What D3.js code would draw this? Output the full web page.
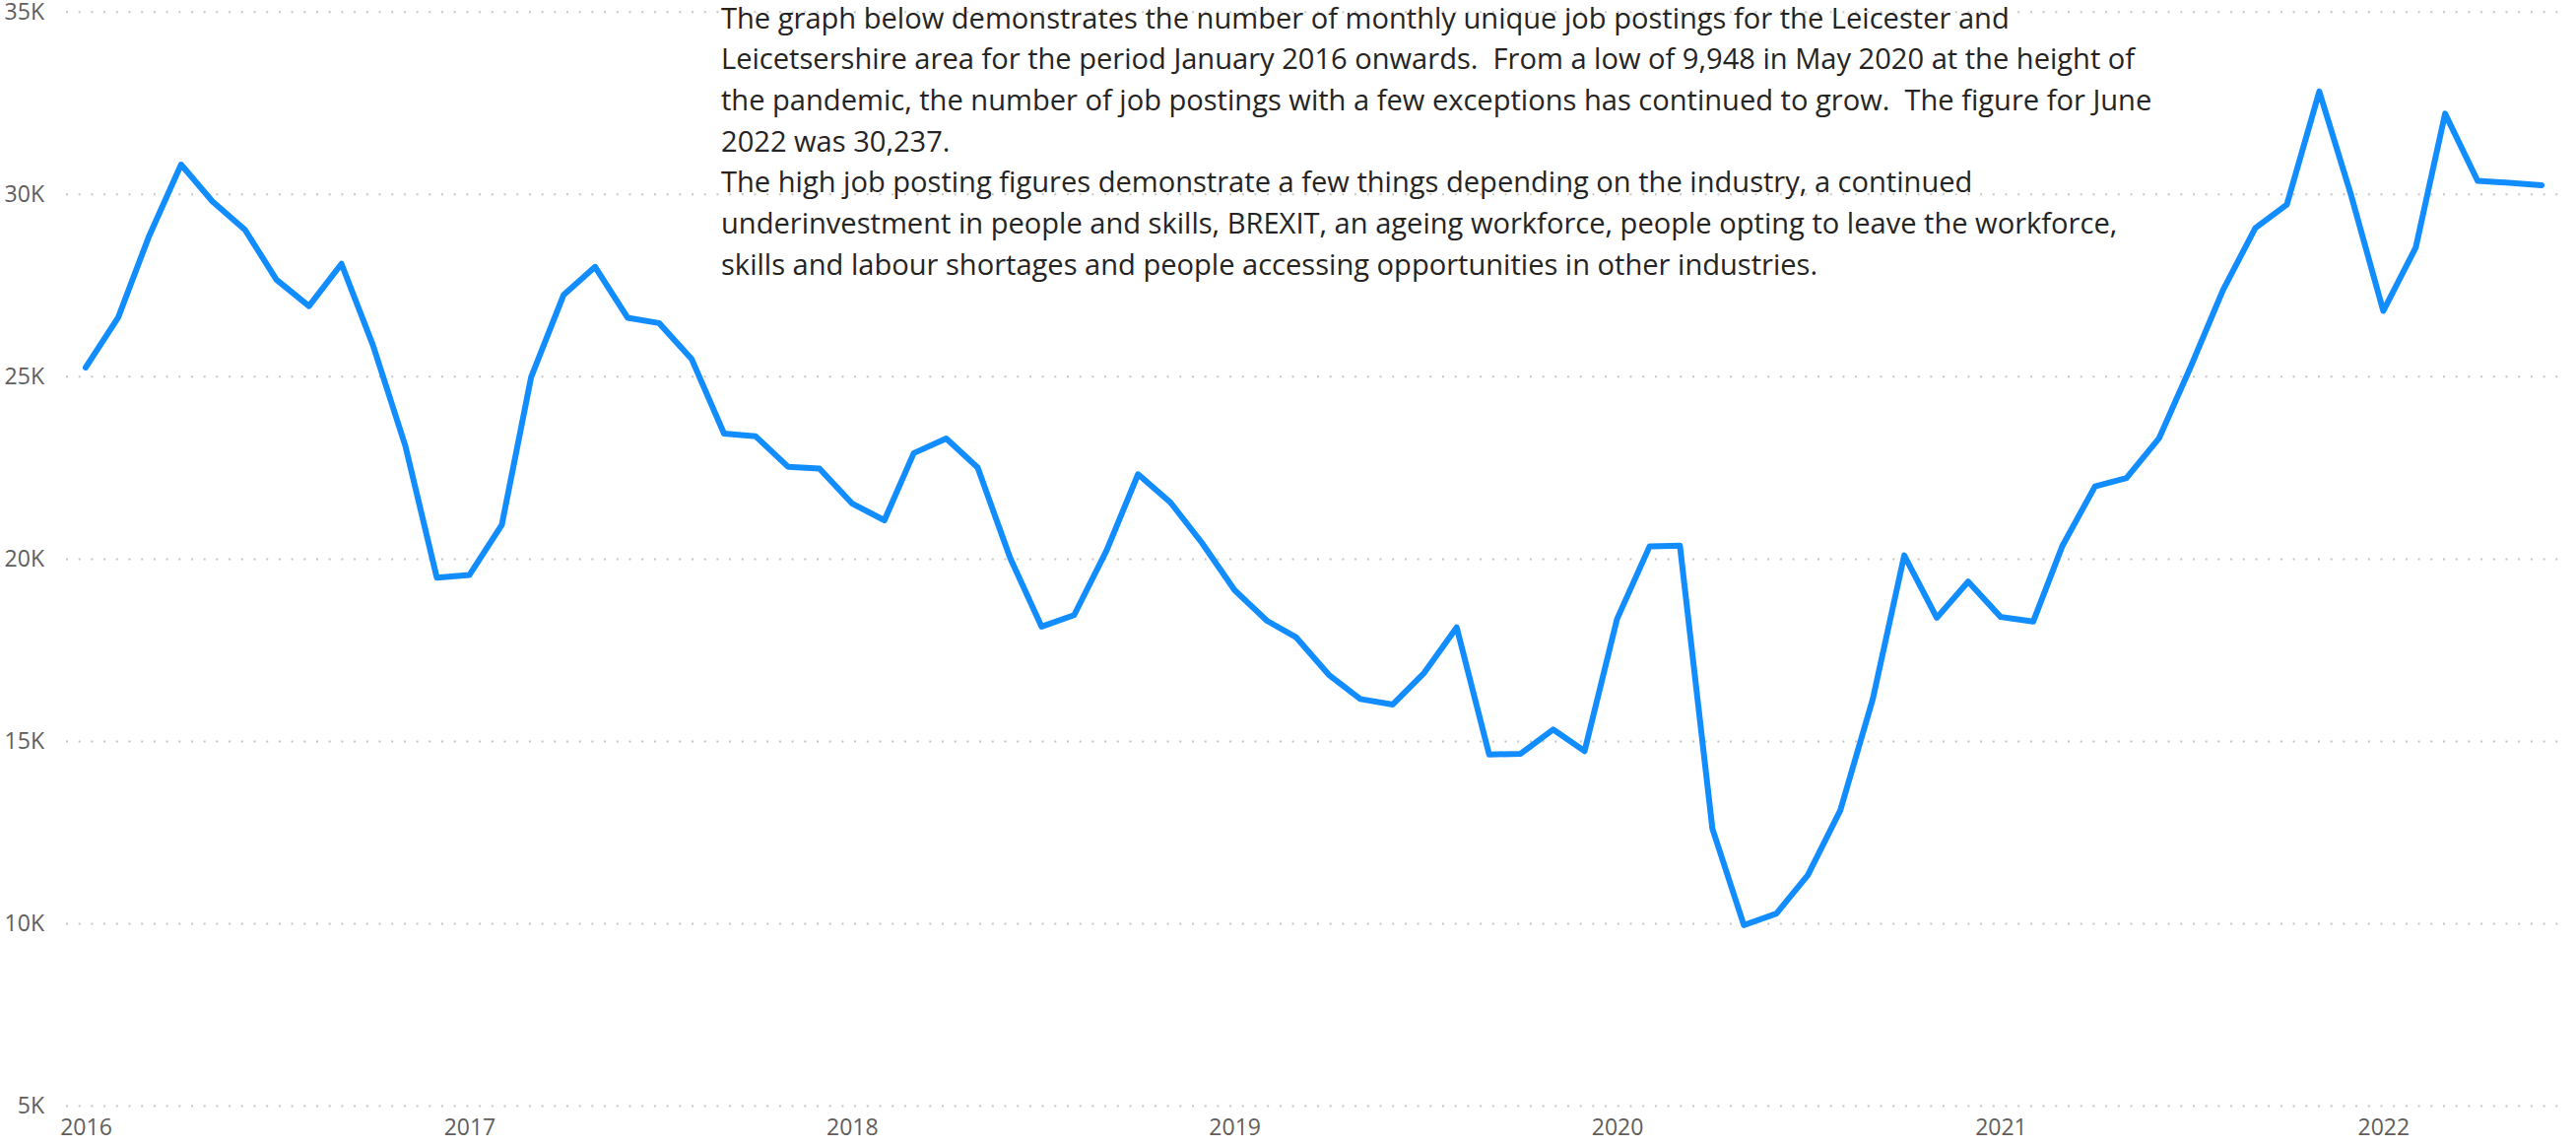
<!DOCTYPE html>
<html>
<head>
<meta charset="utf-8">
<script src="https://cdn.jsdelivr.net/npm/d3@7"></script>
<style>
  body { margin: 0; background: #fff; }
  svg { display: block; font-family: "Segoe UI", "Open Sans", "Noto Sans", sans-serif; }
</style>
</head>
<body>
<div class="chart"></div>
<script>
// monthly unique job postings, Jan 2016 - Jun 2022
var years = [2016, 2017, 2018, 2019, 2020, 2021, 2022];
var postings2016 = [25241, 26616, 28811, 30805, 29792, 29016, 27649, 26924, 28084, 25859, 23089, 19478];
var postings2017 = [19551, 20927, 24981, 27235, 28000, 26605, 26459, 25478, 23430, 23357, 22519, 22468];
var postings2018 = [21516, 21051, 22892, 23295, 22497, 20016, 18135, 18451, 20224, 22314, 21538, 20430];
var postings2019 = [19138, 18295, 17838, 16814, 16149, 16000, 16868, 18114, 14627, 14649, 15314, 14722];
var postings2020 = [18346, 20332, 20354, 12589, 9948, 10265, 11319, 13095, 16149, 20089, 18378, 19370];
var postings2021 = [18400, 18273, 20357, 21981, 22208, 23295, 25240, 27359, 29068, 29708, 32811, 30000];
var postings2022 = [26792, 28530, 32200, 30359, 30308, 30237];

var yTicks = [5000, 10000, 15000, 20000, 25000, 30000, 35000];

var noteLines = [
  "The graph below demonstrates the number of monthly unique job postings for the Leicester and",
  "Leicetsershire area for the period January 2016 onwards.  From a low of 9,948 in May 2020 at the height of",
  "the pandemic, the number of job postings with a few exceptions has continued to grow.  The figure for June",
  "2022 was 30,237.",
  "The high job posting figures demonstrate a few things depending on the industry, a continued",
  "underinvestment in people and skills, BREXIT, an ageing workforce, people opting to leave the workforce,",
  "skills and labour shortages and people accessing opportunities in other industries."
];

var allPostings = [postings2016, postings2017, postings2018, postings2019, postings2020, postings2021, postings2022];
var data = [];
allPostings.forEach(function (arr, i) {
  arr.forEach(function (v, m) {
    data.push({ date: new Date(years[i], m, 1), value: v });
  });
});

var svgWidth = 2615;
var svgHeight = 1163;

var svg = d3.select(".chart")
  .append("svg")
  .attr("width", svgWidth)
  .attr("height", svgHeight);

var xScale = d3.scaleTime()
  .domain(d3.extent(data, d => d.date))
  .range([87, 2580]);

var yScale = d3.scaleLinear()
  .domain([5000, 35000])
  .range([1122, 11.8]);

// dotted gridlines
var grid = svg.append("g")
  .attr("transform", "translate(67, 0)")
  .call(d3.axisLeft(yScale).tickValues(yTicks).tickSize(-(2604 - 67)).tickFormat(""));
grid.select(".domain").remove();
grid.selectAll("line")
  .attr("stroke", "#c8c6c4")
  .attr("stroke-width", 2)
  .attr("stroke-dasharray", "2,10.7");

// y axis labels
var yAxis = svg.append("g")
  .attr("transform", "translate(45, 0)")
  .call(d3.axisLeft(yScale).tickValues(yTicks).tickSize(0).tickPadding(0)
    .tickFormat(d => (d / 1000) + "K"));
yAxis.attr("font-family", null).attr("font-size", null);
yAxis.select(".domain").remove();
yAxis.selectAll("text")
  .attr("fill", "#605e5c")
  .attr("font-size", "23px");

// x axis labels
var xAxis = svg.append("g")
  .attr("transform", "translate(0, 1135)")
  .call(d3.axisBottom(xScale).ticks(d3.timeYear.every(1)).tickSize(0).tickPadding(0)
    .tickFormat(d3.timeFormat("%Y")));
xAxis.attr("font-family", null).attr("font-size", null);
xAxis.select(".domain").remove();
xAxis.selectAll("text")
  .attr("fill", "#605e5c")
  .attr("font-size", "23px")
  .attr("dy", "0.75em");

// the line
var line = d3.line()
  .x(d => xScale(d.date))
  .y(d => yScale(d.value));

svg.append("path")
  .datum(data)
  .attr("fill", "none")
  .attr("stroke", "#118dff")
  .attr("stroke-width", 6)
  .attr("stroke-linejoin", "round")
  .attr("stroke-linecap", "round")
  .attr("d", line);

// annotation text
var noteText = svg.append("g").selectAll("text")
  .data(noteLines)
  .enter()
  .append("text")
  .attr("x", 732)
  .attr("y", (d, i) => 28.5 + i * 41.7)
  .attr("fill", "#252423")
  .attr("font-size", "29px")
  .style("white-space", "pre")
  .text(d => d);

// fit font size so the first line spans like the original
var firstLen = noteText.node().getComputedTextLength();
var fitSize = 29 * 1308 / firstLen;
noteText.attr("font-size", fitSize + "px");
</script>
</body>
</html>
